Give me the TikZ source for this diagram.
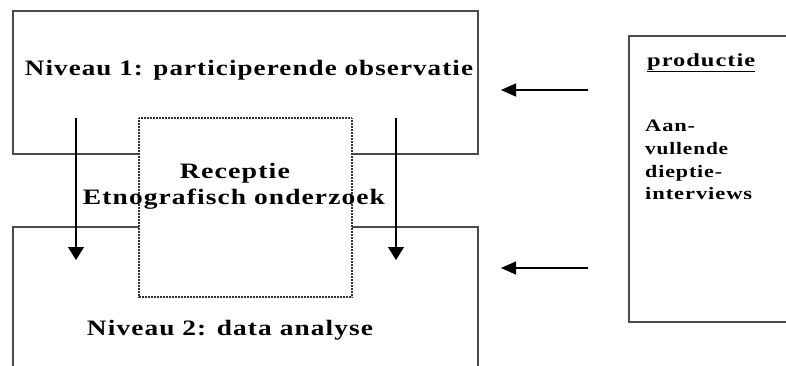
\documentclass[tikz,border=0pt]{standalone}
\usepackage{fontspec}
\usepackage{graphicx}
\usetikzlibrary{arrows.meta}
\setmainfont{Liberation Serif}
\newfontfamily\spaced[LetterSpace=4]{Liberation Serif}
\newcommand{\fitw}[2]{\resizebox{#1}{\height}{#2}}
\begin{document}
\begin{tikzpicture}[x=1pt,y=-1pt,
  frame/.style={draw=black!70,line width=1.6pt},
  dotbox/.style={draw=black!80,dash pattern=on 0.8pt off 0.7pt,line width=1.1pt,fill=white},
  flow/.style={draw=black,line width=1.1pt,-{Triangle[length=13pt,width=16pt]}},
  side/.style={flow,-{Triangle[length=15pt,width=13pt]}},
  bigtxt/.style={font=\spaced\bfseries\fontsize{22}{26}\selectfont,inner sep=0pt,anchor=base},
  smtxt/.style={font=\spaced\bfseries\fontsize{17.5}{22.7}\selectfont,inner sep=0pt,align=left,anchor=north west},
  ]
\clip (0,0) rectangle (786,365);
\fill[white] (0,0) rectangle (786,365);
% boxes
\path[frame] (13,11) rectangle (478,154);
\path[frame] (13,227) rectangle (478,420);
\path[frame] (629,36) rectangle (820,322);
% dotted box
\path[dotbox] (139,118) rectangle (352,297);
% texts
\node[bigtxt] (n1) at (249,75) {\fitw{448pt}{Niveau 1: participerende observatie}};
\node[bigtxt] (rec) at (235,178) {\fitw{110pt}{Receptie}};
\node[bigtxt] (etn) at (234,204) {\fitw{302pt}{Etnografisch onderzoek}};
\node[bigtxt] (n2) at (230,335) {\fitw{286pt}{Niveau 2: data analyse}};
\node[font=\spaced\bfseries\fontsize{18.5}{20}\selectfont,inner sep=0pt,anchor=base west] (prod) at (647,66) {\fitw{108pt}{\underline{productie}}};
\node[smtxt] (aan) at (645,120) {\fitw{50pt}{Aan-}\\\fitw{83pt}{vullende}\\\fitw{77pt}{dieptie-}\\\fitw{107pt}{interviews}};
% arrows
\coordinate (d1s) at (76,118);
\coordinate (d1e) at (76,260);
\coordinate (d2s) at (396,118);
\coordinate (d2e) at (396,260);
\coordinate (l1s) at (588,90);
\coordinate (l1e) at (501,90);
\coordinate (l2s) at (588,268);
\coordinate (l2e) at (501,268);
\draw[flow] (d1s) -- (d1e);
\draw[flow] (d2s) -- (d2e);
\draw[side] (l1s) -- (l1e);
\draw[side] (l2s) -- (l2e);
\end{tikzpicture}
\end{document}
